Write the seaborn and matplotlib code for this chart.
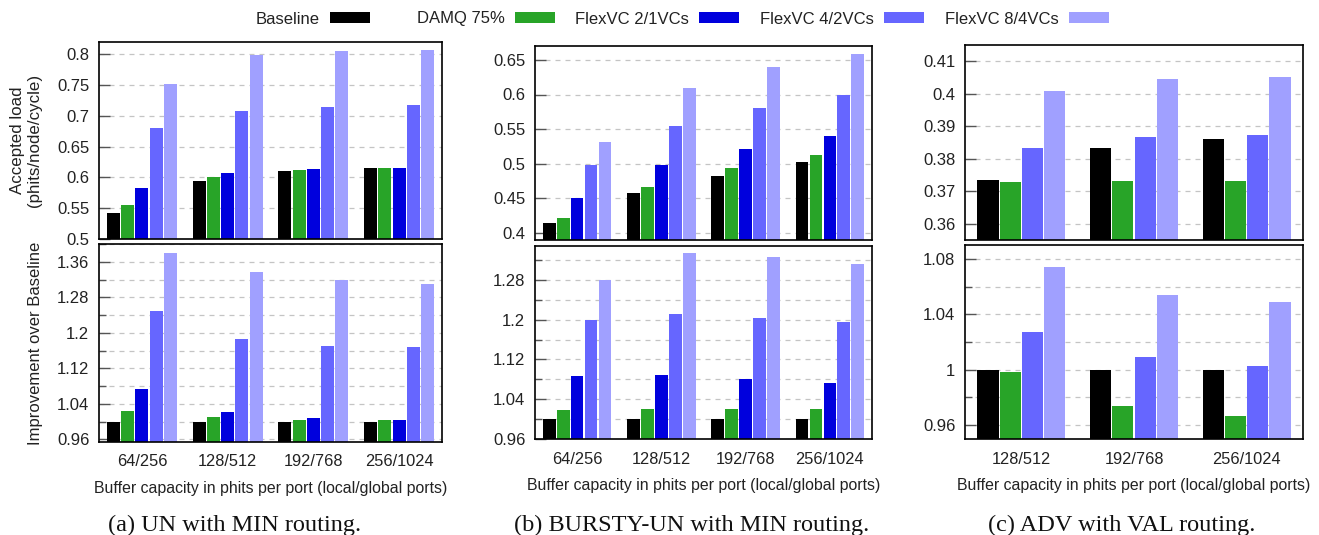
import numpy as np
import pandas as pd
import matplotlib
matplotlib.use("Agg")
import matplotlib.pyplot as plt
import seaborn as sns
from matplotlib.ticker import MultipleLocator, FuncFormatter
from matplotlib.patches import Patch

# ---------------- data ----------------
series = ["Baseline", "DAMQ 75%", "FlexVC 2/1VCs", "FlexVC 4/2VCs", "FlexVC 8/4VCs"]
colors = ["#000000", "#28a428", "#0000dd", "#6666ff", "#a0a0ff"]

caps_ab = ["64/256", "128/512", "192/768", "256/1024"]
caps_c = ["128/512", "192/768", "256/1024"]

# (a) UN with MIN routing - accepted load
un_load_base = [0.543, 0.595, 0.610, 0.615]
un_load_damq = [0.555, 0.600, 0.612, 0.615]
un_load_f21 = [0.583, 0.608, 0.613, 0.615]
un_load_f42 = [0.680, 0.708, 0.714, 0.717]
un_load_f84 = [0.751, 0.799, 0.805, 0.807]
# (a) improvement over baseline
un_imp_base = [1.0, 1.0, 1.0, 1.0]
un_imp_damq = [1.024, 1.011, 1.004, 1.004]
un_imp_f21 = [1.074, 1.022, 1.009, 1.004]
un_imp_f42 = [1.250, 1.187, 1.171, 1.168]
un_imp_f84 = [1.379, 1.338, 1.318, 1.311]

# (b) BURSTY-UN with MIN routing - accepted load
bu_load_base = [0.414, 0.458, 0.483, 0.502]
bu_load_damq = [0.422, 0.466, 0.494, 0.512]
bu_load_f21 = [0.450, 0.498, 0.522, 0.540]
bu_load_f42 = [0.498, 0.554, 0.581, 0.600]
bu_load_f84 = [0.531, 0.610, 0.640, 0.659]
# (b) improvement over baseline
bu_imp_base = [1.0, 1.0, 1.0, 1.0]
bu_imp_damq = [1.018, 1.020, 1.020, 1.020]
bu_imp_f21 = [1.086, 1.088, 1.080, 1.072]
bu_imp_f42 = [1.199, 1.211, 1.203, 1.195]
bu_imp_f84 = [1.279, 1.333, 1.325, 1.311]

# (c) ADV with VAL routing - accepted load (no FlexVC 2/1VCs)
adv_load_base = [0.3735, 0.3834, 0.3861]
adv_load_damq = [0.3729, 0.3732, 0.3732]
adv_load_f42 = [0.3834, 0.3868, 0.3874]
adv_load_f84 = [0.4010, 0.4044, 0.4053]
# (c) improvement over baseline
adv_imp_base = [1.0, 1.0, 1.0]
adv_imp_damq = [0.998, 0.974, 0.9665]
adv_imp_f42 = [1.027, 1.009, 1.003]
adv_imp_f84 = [1.074, 1.054, 1.049]

# ---------------- style ----------------
sns.set_style("ticks")
plt.rcParams["font.family"] = ["Liberation Sans", "DejaVu Sans"]
plt.rcParams["axes.edgecolor"] = "black"

W, H = 1319, 535
fig = plt.figure(figsize=(W / 100, H / 100), dpi=100)

TXT = "#222222"


def px_axes(left, right, top, bottom):
    return fig.add_axes([left / W, 1 - bottom / H, (right - left) / W, (bottom - top) / H])


def draw(ax, cats, names, vals, cols, width, gap, ylim, major, minor, bottom_row):
    df = pd.DataFrame({
        "capacity": [c for _ in names for c in cats],
        "config": [n for n in names for _ in cats],
        "value": [v for vs in vals for v in vs],
    })
    sns.barplot(data=df, x="capacity", y="value", hue="config", order=cats,
                hue_order=names, palette=cols, width=width, gap=gap,
                saturation=1, errorbar=None, legend=False, linewidth=0, ax=ax)
    ax.set_ylim(*ylim)
    ax.set_xlim(-0.5, len(cats) - 0.5)
    ax.yaxis.set_major_locator(MultipleLocator(major))
    if minor:
        ax.yaxis.set_minor_locator(MultipleLocator(minor))
    ax.yaxis.set_major_formatter(FuncFormatter(lambda v, p: f"{round(v, 3):g}"))
    ax.set_axisbelow(True)
    ax.grid(True, axis="y", which="both", color="#c4c4c4", linestyle=(0, (4, 4)), linewidth=0.9)
    ax.grid(False, axis="x")
    for s in ax.spines.values():
        s.set_visible(True)
        s.set_color("black")
        s.set_linewidth(1.2)
    ax.tick_params(axis="y", which="major", direction="in", length=8, width=1,
                   color="#555555", labelsize=12, pad=7, labelcolor=TXT)
    ax.tick_params(axis="y", which="minor", direction="in", length=5, width=1, color="#555555")
    ax.set_ylabel("")
    ax.set_xlabel("")
    if bottom_row:
        ax.tick_params(axis="x", length=0, labelsize=11.8, pad=9, labelcolor=TXT)
        ax.set_xlabel("Buffer capacity in phits per port (local/global ports)", fontsize=11.4,
                      labelpad=8, color=TXT)
    else:
        ax.tick_params(axis="x", length=0, labelbottom=False)


# panel (a)
ax_a1 = px_axes(99, 442, 42, 239)
ax_a2 = px_axes(99, 442, 244, 442)
draw(ax_a1, caps_ab, series,
     [un_load_base, un_load_damq, un_load_f21, un_load_f42, un_load_f84],
     colors, 0.83, 0.09, (0.5, 0.82), 0.05, None, False)
draw(ax_a2, caps_ab, series,
     [un_imp_base, un_imp_damq, un_imp_f21, un_imp_f42, un_imp_f84],
     colors, 0.83, 0.09, (0.954, 1.40), 0.08, 0.04, True)
ax_a1.set_ylabel("Accepted load\n(phits/node/cycle)", fontsize=12.2, va="center",
                 color=TXT, linespacing=1.15)
ax_a1.yaxis.set_label_coords(-0.212, 0.5)
ax_a2.set_ylabel("Improvement over Baseline", fontsize=12, va="center", color=TXT)
ax_a2.yaxis.set_label_coords(-0.185, 0.5)

# panel (b)
ax_b1 = px_axes(535, 872, 46, 240)
ax_b2 = px_axes(535, 872, 246, 439)
draw(ax_b1, caps_ab, series,
     [bu_load_base, bu_load_damq, bu_load_f21, bu_load_f42, bu_load_f84],
     colors, 0.83, 0.09, (0.39, 0.67), 0.05, None, False)
draw(ax_b2, caps_ab, series,
     [bu_imp_base, bu_imp_damq, bu_imp_f21, bu_imp_f42, bu_imp_f84],
     colors, 0.83, 0.09, (0.96, 1.348), 0.08, 0.04, True)

# panel (c)
series_c = [series[0], series[1], series[3], series[4]]
colors_c = [colors[0], colors[1], colors[3], colors[4]]
ax_c1 = px_axes(965, 1303, 45, 240)
ax_c2 = px_axes(965, 1303, 245, 439)
draw(ax_c1, caps_c, series_c,
     [adv_load_base, adv_load_damq, adv_load_f42, adv_load_f84],
     colors_c, 0.79, 0.05, (0.355, 0.415), 0.01, None, False)
draw(ax_c2, caps_c, series_c,
     [adv_imp_base, adv_imp_damq, adv_imp_f42, adv_imp_f84],
     colors_c, 0.79, 0.05, (0.95, 1.09), 0.04, 0.02, True)

# legend (gnuplot style: text then sample, fixed column width)
legend_right = [370, 555, 739, 924, 1109]
for name, col, xr in zip(series, colors, legend_right):
    fig.legend(handles=[Patch(facecolor=col, edgecolor="none", label=name)],
               loc="center right", bbox_to_anchor=(xr / W, 1 - 19 / H),
               frameon=False, markerfirst=False, fontsize=12, borderpad=0,
               borderaxespad=0, handlelength=2.4, handleheight=0.6,
               handletextpad=0.6, labelcolor=TXT)

# captions
caption_kw = dict(family=["Liberation Serif", "DejaVu Serif"], fontsize=17.5,
                  ha="center", va="baseline", color="#111111")
fig.text(235 / W, 1 - 531 / H, "(a) UN with MIN routing.", **caption_kw)
fig.text(692 / W, 1 - 531 / H, "(b) BURSTY-UN with MIN routing.", **caption_kw)
fig.text(1122 / W, 1 - 531 / H, "(c) ADV with VAL routing.", **caption_kw)

fig.savefig("out.png", dpi=100)
